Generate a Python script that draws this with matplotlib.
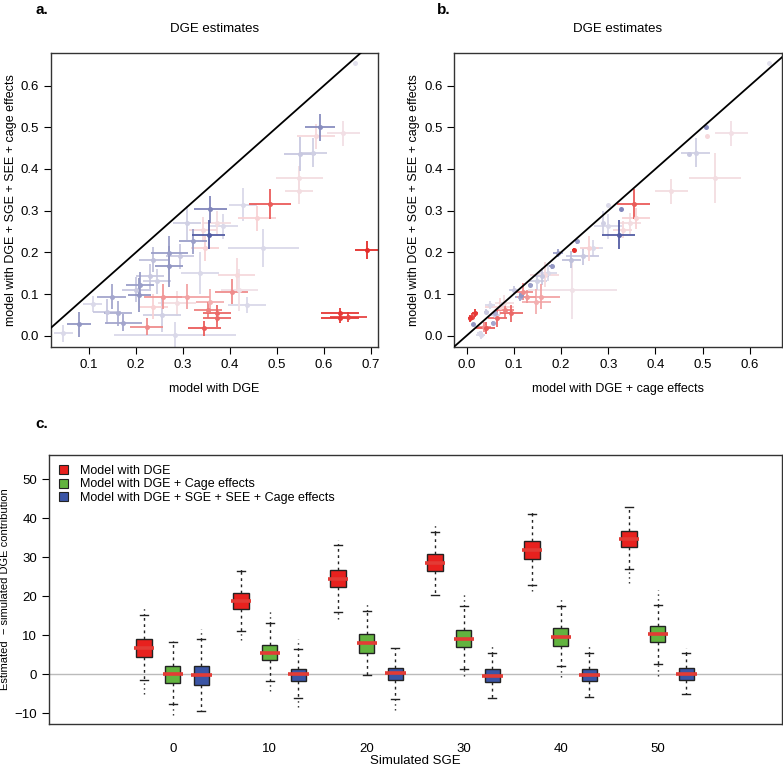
import numpy as np
import matplotlib
matplotlib.use("Agg")
import matplotlib.pyplot as plt
from matplotlib.colors import LinearSegmentedColormap
from matplotlib.patches import Patch

plt.rcParams['font.family'] = ['Liberation Sans', 'DejaVu Sans']

# --- panels a/b: per-gene DGE estimates (shared y, colour score) ---
x_dge = [0.691, 0.634, 0.634, 0.652, 0.485, 0.457, 0.428, 0.591, 0.583, 0.641,
         0.549, 0.576, 0.547, 0.546, 0.667, 0.355, 0.358, 0.322, 0.308, 0.343,
         0.372, 0.471, 0.271, 0.271, 0.237, 0.294, 0.209, 0.207, 0.148, 0.230,
         0.258, 0.308, 0.357, 0.354, 0.372, 0.372, 0.345, 0.404, 0.414, 0.436,
         0.223, 0.079, 0.045, 0.108, 0.173, 0.162, 0.138, 0.283, 0.255, 0.287,
         0.336, 0.201, 0.346, 0.386, 0.237, 0.244, 0.420]
x_dge_cage = [0.227, 0.018, 0.008, 0.012, 0.354, 0.359, 0.300, 0.508, 0.510, 0.560,
              0.470, 0.485, 0.526, 0.433, 0.641, 0.322, 0.327, 0.234, 0.289, 0.331,
              0.345, 0.268, 0.194, 0.180, 0.222, 0.246, 0.135, 0.116, 0.113, 0.160,
              0.127, 0.158, 0.148, 0.081, 0.095, 0.065, 0.041, 0.120, 0.165, 0.050,
              0.036, 0.013, 0.028, 0.075, 0.056, 0.060, 0.042, 0.030, 0.060, 0.080,
              0.172, 0.100, 0.260, 0.300, 0.070, 0.150, 0.224]
y_full = [0.206, 0.054, 0.042, 0.046, 0.316, 0.282, 0.314, 0.500, 0.478, 0.486,
          0.436, 0.439, 0.378, 0.346, 0.654, 0.242, 0.303, 0.226, 0.270, 0.254,
          0.270, 0.210, 0.198, 0.166, 0.182, 0.190, 0.122, 0.098, 0.094, 0.142,
          0.094, 0.094, 0.082, 0.062, 0.054, 0.042, 0.018, 0.106, 0.146, 0.074,
          0.022, 0.028, 0.006, 0.076, 0.031, 0.054, 0.058, 0.002, 0.050, 0.078,
          0.150, 0.110, 0.210, 0.262, 0.070, 0.130, 0.110]
score = [0.95, 0.90, 0.90, 0.85, 0.75, 0.25, -0.10, -0.55, 0.20, 0.12,
         -0.20, -0.15, 0.15, 0.15, -0.05, -0.85, -0.60, -0.45, -0.15, 0.20,
         0.15, -0.10, -0.45, -0.50, -0.25, -0.20, -0.45, -0.50, -0.40, -0.20,
         0.50, 0.45, 0.40, 0.60, 0.70, 0.70, 0.75, 0.55, 0.20, -0.10,
         0.55, -0.50, -0.10, -0.10, -0.40, -0.35, -0.20, -0.10, -0.15, 0.15,
         -0.10, -0.20, 0.25, -0.10, 0.25, -0.15, 0.10]
xerr_a = [0.025, 0.040, 0.040, 0.040, 0.045, 0.040, 0.030, 0.032, 0.040, 0.035,
          0.035, 0.030, 0.050, 0.030, 0.000, 0.035, 0.035, 0.030, 0.030, 0.030,
          0.030, 0.075, 0.040, 0.030, 0.030, 0.030, 0.030, 0.025, 0.030, 0.030,
          0.040, 0.050, 0.030, 0.030, 0.030, 0.030, 0.035, 0.035, 0.040, 0.040,
          0.035, 0.025, 0.020, 0.020, 0.040, 0.030, 0.030, 0.130, 0.040, 0.040,
          0.040, 0.030, 0.030, 0.030, 0.030, 0.030, 0.040]
yerr_a = [0.022, 0.012, 0.012, 0.012, 0.035, 0.030, 0.040, 0.032, 0.030, 0.030,
          0.040, 0.035, 0.030, 0.030, 0.000, 0.035, 0.033, 0.030, 0.040, 0.030,
          0.030, 0.045, 0.040, 0.050, 0.030, 0.030, 0.030, 0.040, 0.030, 0.030,
          0.030, 0.030, 0.030, 0.020, 0.020, 0.020, 0.018, 0.030, 0.040, 0.020,
          0.020, 0.030, 0.020, 0.020, 0.020, 0.030, 0.030, 0.030, 0.040, 0.030,
          0.050, 0.030, 0.030, 0.030, 0.030, 0.030, 0.050]
xerr_b = [0.003, 0.006, 0.004, 0.005, 0.035, 0.030, 0.000, 0.000, 0.000, 0.035,
          0.000, 0.030, 0.055, 0.035, 0.000, 0.035, 0.000, 0.005, 0.000, 0.020,
          0.025, 0.020, 0.010, 0.005, 0.020, 0.035, 0.005, 0.005, 0.010, 0.015,
          0.020, 0.040, 0.030, 0.020, 0.025, 0.020, 0.020, 0.020, 0.030, 0.010,
          0.015, 0.000, 0.005, 0.005, 0.005, 0.005, 0.005, 0.010, 0.010, 0.020,
          0.020, 0.010, 0.020, 0.030, 0.030, 0.020, 0.095]
yerr_b = [0.004, 0.010, 0.008, 0.008, 0.035, 0.025, 0.000, 0.000, 0.000, 0.030,
          0.000, 0.035, 0.060, 0.030, 0.000, 0.035, 0.000, 0.005, 0.030, 0.020,
          0.025, 0.020, 0.010, 0.005, 0.020, 0.020, 0.005, 0.005, 0.010, 0.020,
          0.015, 0.030, 0.030, 0.020, 0.020, 0.020, 0.015, 0.020, 0.030, 0.010,
          0.012, 0.000, 0.005, 0.005, 0.005, 0.005, 0.005, 0.010, 0.010, 0.020,
          0.020, 0.010, 0.030, 0.030, 0.020, 0.020, 0.070]

# --- panel c: boxplot summaries (estimated - simulated DGE contribution) ---
sge = [0, 10, 20, 30, 40, 50]
models = ['Model with DGE', 'Model with DGE + Cage effects',
          'Model with DGE + SGE + SEE + Cage effects']
model_colors = ['#e8211e', '#62b33f', '#3b55a5']
med = [[6.8, 18.8, 24.5, 28.6, 31.9, 34.6],
       [0.0, 5.6, 8.0, 9.1, 9.7, 10.4],
       [-0.2, 0.0, 0.3, -0.3, -0.2, 0.2]]
q1 = [[4.4, 16.8, 22.3, 26.5, 29.6, 32.6],
      [-2.3, 3.7, 5.6, 6.9, 7.4, 8.2],
      [-2.6, -1.7, -1.5, -2.0, -1.7, -1.3]]
q3 = [[9.1, 20.9, 26.7, 30.9, 34.3, 36.8],
      [2.2, 7.5, 10.3, 11.4, 11.8, 12.3],
      [2.2, 1.5, 1.7, 1.5, 1.4, 1.6]]
whis_lo = [[-1.3, 11.2, 16.0, 20.3, 22.9, 27.0],
           [-7.6, -1.7, -0.2, 1.3, 2.1, 2.7],
           [-9.3, -6.0, -6.2, -6.0, -5.9, -5.1]]
whis_hi = [[15.2, 26.5, 33.2, 36.4, 41.0, 43.0],
           [8.2, 13.2, 16.3, 17.4, 17.4, 17.9],
           [9.0, 6.4, 6.8, 5.6, 5.6, 5.6]]
out_lo = [[-4.9, 8.8, 14.2, 20.3, 21.4, 23.3],
          [-10.4, -4.2, -0.2, -0.3, -0.7, -0.4],
          [-9.3, -8.4, -9.1, -6.0, -5.9, -5.1]]
out_hi = [[16.9, 26.9, 34.4, 38.2, 42.1, 43.0],
          [8.6, 16.5, 18.0, 20.9, 19.9, 21.5],
          [11.7, 9.1, 6.8, 7.3, 7.5, 6.7]]
offsets = [-2.95, 0.0, 2.95]

cmap = LinearSegmentedColormap.from_list(
    'dge', [(0.0, '#3a4496'), (0.5, '#ebe9f2'), (0.62, '#f8d6d8'), (1.0, '#e3221f')])


def scatter_panel(ax, xs, xe, ye, xlabel, xlim, xticks):
    order = np.argsort(np.abs(score))
    for i in order:
        col = cmap((score[i] + 1) / 2)
        ax.errorbar(xs[i], y_full[i], xerr=xe[i] if xe[i] > 0 else None,
                    yerr=ye[i] if ye[i] > 0 else None, fmt='o', color=col,
                    ms=3.6, mew=0, elinewidth=1.3, capsize=0, zorder=2)
    ax.plot([-1, 1], [-1, 1], color='black', lw=1.3, zorder=3)
    ax.set_xlim(*xlim)
    ax.set_ylim(-0.027, 0.678)
    ax.set_xticks(xticks)
    ax.set_yticks(np.arange(0, 0.61, 0.1))
    ax.xaxis.set_major_formatter(plt.FormatStrFormatter('%.1f'))
    ax.yaxis.set_major_formatter(plt.FormatStrFormatter('%.1f'))
    ax.tick_params(direction='out', length=5, labelsize=9.5, width=0.8)
    ax.set_xlabel(xlabel, fontsize=9, labelpad=9)
    ax.set_ylabel('model with DGE + SGE + SEE + cage effects', fontsize=9, labelpad=3)
    ax.set_title('DGE estimates', fontsize=9.5, pad=15)
    for s in ax.spines.values():
        s.set_color('#333333')
        s.set_linewidth(1.0)


fig = plt.figure(figsize=(7.83, 7.7), dpi=100)

ax_a = fig.add_axes([0.0651, 0.5494, 0.4177, 0.3818])
scatter_panel(ax_a, x_dge, xerr_a, yerr_a, 'model with DGE',
              (0.019, 0.715), np.arange(0.1, 0.71, 0.1))
ax_b = fig.add_axes([0.5802, 0.5494, 0.4180, 0.3818])
scatter_panel(ax_b, x_dge_cage, xerr_b, yerr_b, 'model with DGE + cage effects',
              (-0.026, 0.667), np.arange(0, 0.61, 0.1))

ax_c = fig.add_axes([0.0626, 0.0597, 0.9360, 0.3494])
ax_c.axhline(0, color='#bbbbbb', lw=1.0, zorder=0)
for m in range(3):
    stats = []
    for g in range(len(sge)):
        stats.append(dict(med=med[m][g], q1=q1[m][g], q3=q3[m][g],
                          whislo=whis_lo[m][g], whishi=whis_hi[m][g], fliers=[]))
    pos = [s + offsets[m] for s in sge]
    ax_c.bxp(stats, positions=pos, widths=1.6, capwidths=0.8, patch_artist=True,
             manage_ticks=False,
             boxprops=dict(facecolor=model_colors[m], edgecolor='#222222', lw=1.0),
             whiskerprops=dict(color='#222222', lw=1.0, linestyle=(0, (2, 2.5))),
             capprops=dict(color='#222222', lw=1.0),
             medianprops=dict(lw=0), zorder=2)
    ax_c.vlines(pos, whis_hi[m], out_hi[m], color='#222222', lw=1.0,
                linestyle=(0, (1, 2.5)), zorder=1)
    ax_c.vlines(pos, out_lo[m], whis_lo[m], color='#222222', lw=1.0,
                linestyle=(0, (1, 2.5)), zorder=1)
    ax_c.hlines(med[m], [p - 1.05 for p in pos], [p + 1.05 for p in pos],
                color='#e33b35', lw=2.6, zorder=3)

ax_c.set_xlim(-12.75, 62.8)
ax_c.set_ylim(-12.7, 56.2)
ax_c.set_xticks(sge)
ax_c.set_yticks(np.arange(-10, 51, 10))
ax_c.tick_params(axis='x', length=0, labelsize=9.5, pad=14)
ax_c.tick_params(axis='y', direction='out', length=5, labelsize=9.5, width=0.8)
ax_c.set_xlabel('Simulated SGE', fontsize=9.5, labelpad=0)
ax_c.set_ylabel('Estimated  \u2212 simulated DGE contribution', fontsize=8, labelpad=3)
for s in ax_c.spines.values():
    s.set_color('#333333')
    s.set_linewidth(1.0)

handles = [Patch(facecolor=c, edgecolor='#222222', lw=0.8) for c in model_colors]
ax_c.legend(handles, models, loc='upper left', frameon=False, fontsize=9,
            handlelength=0.75, handleheight=0.75, handletextpad=0.9,
            labelspacing=0.12, borderaxespad=0.4, bbox_to_anchor=(0.0, 1.0))

fig.text(0.045, 0.996, 'a.', fontsize=11, fontweight='bold', va='top')
fig.text(0.558, 0.996, 'b.', fontsize=11, fontweight='bold', va='top')
fig.text(0.045, 0.459, 'c.', fontsize=11, fontweight='bold', va='top')

fig.savefig('out.png', dpi=100)
